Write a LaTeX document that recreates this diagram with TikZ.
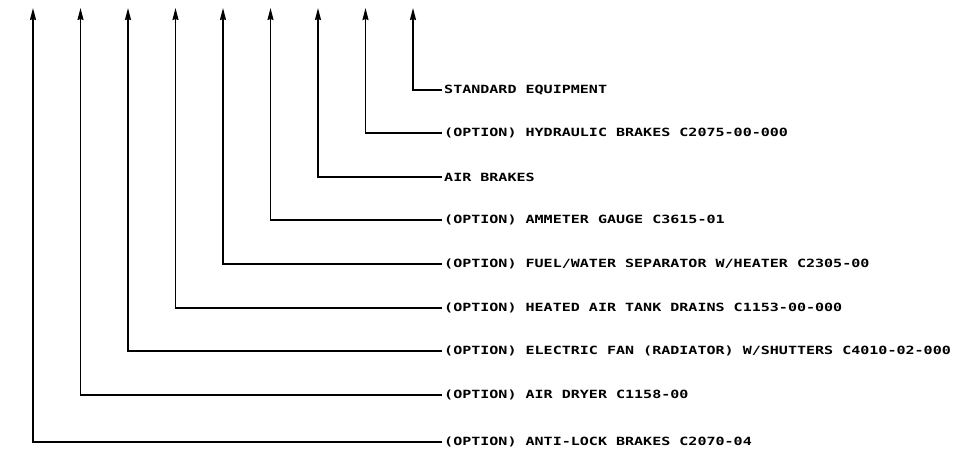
\documentclass[tikz,border=0pt]{standalone}
\usepackage{fontspec}
\newfontfamily\cadfont[FakeStretch=1.33]{DejaVu Sans Mono Bold}
\usetikzlibrary{arrows.meta}
\begin{document}
\begin{tikzpicture}[x=1pt,y=-1pt,
  lead/.style={line width=1.6pt, -{Stealth[length=12pt,width=6pt,inset=1pt]}},
  lbl/.style={anchor=west, inner sep=0pt, font=\cadfont\fontsize{11.3}{11.3}\selectfont}]
\useasboundingbox (0,0) rectangle (964,455);
\foreach \i/\yy/\txt in {
  0/442/{(OPTION) ANTI-LOCK BRAKES C2070-04},
  1/395/{(OPTION) AIR DRYER C1158-00},
  2/351/{(OPTION) ELECTRIC FAN (RADIATOR) W/SHUTTERS C4010-02-000},
  3/308/{(OPTION) HEATED AIR TANK DRAINS C1153-00-000},
  4/264/{(OPTION) FUEL/WATER SEPARATOR W/HEATER C2305-00},
  5/220/{(OPTION) AMMETER GAUGE C3615-01},
  6/177/{AIR BRAKES},
  7/133/{(OPTION) HYDRAULIC BRAKES C2075-00-000},
  8/90/{STANDARD EQUIPMENT}}{
  \pgfmathsetmacro{\xx}{33+47.5*\i}
  \coordinate (top\i) at (\xx,8);
  \coordinate (corner\i) at (\xx,\yy);
  \coordinate (end\i) at (442,\yy);
  \node[lbl] (label\i) at (444,\yy) {\txt};
  \draw[lead] (end\i) -- (corner\i) -- (top\i);
}
\end{tikzpicture}
\end{document}
